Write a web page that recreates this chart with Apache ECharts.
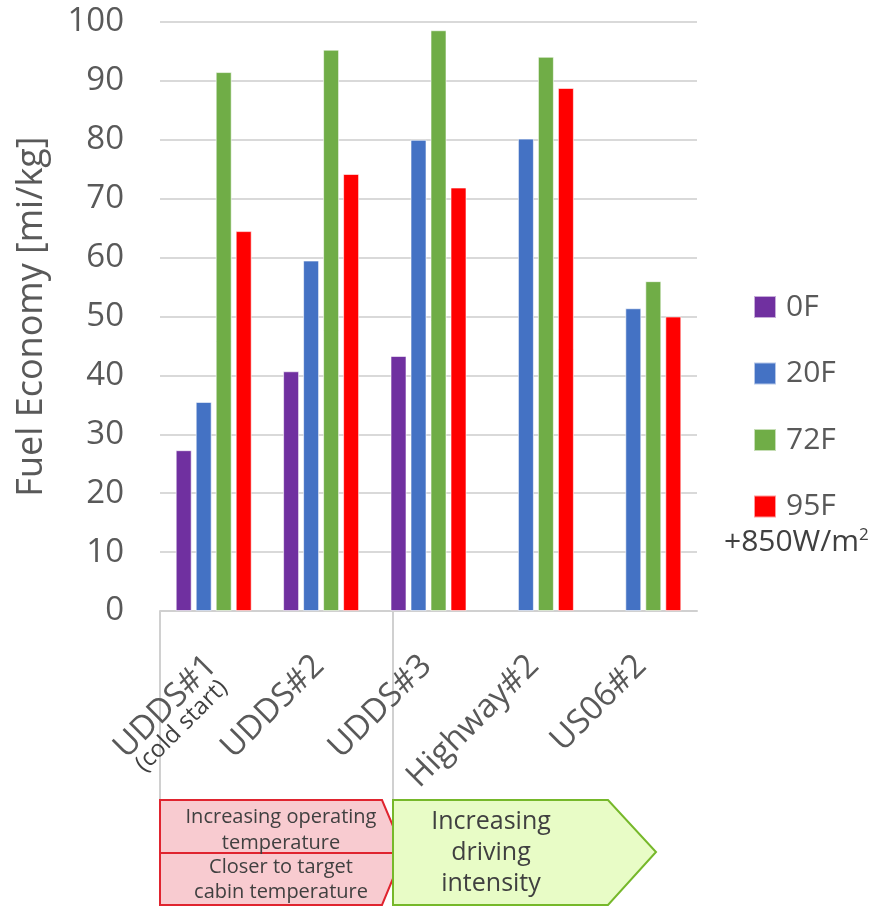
<!DOCTYPE html>
<html>
<head>
<meta charset="utf-8">
<script src="https://cdn.jsdelivr.net/npm/echarts@6/dist/echarts.min.js"></script>
<style>
  html, body { margin: 0; padding: 0; background: #fff; }
  #chart { width: 874px; height: 908px; }
</style>
</head>
<body>
<div id="chart"></div>
<script>
// Drive cycles on the x axis
const cycles = ['UDDS#1', 'UDDS#2', 'UDDS#3', 'Highway#2', 'US06#2'];

// Fuel economy [mi/kg] per ambient test condition
const seriesNames = ['0F', '20F', '72F', '95F'];
const econ0F  = [27.3, 40.7, 43.3, null, null];
const econ20F = [35.5, 59.5, 80.0, 80.2, 51.4];
const econ72F = [91.5, 95.3, 98.6, 94.1, 56.0];
const econ95F = [64.5, 74.2, 71.9, 88.8, 50.0];

const yTicks = { min: 0, max: 100, interval: 10 };
const colors = ['#7030a0', '#4472c4', '#70ad47', '#ff0000'];

const FONT = '"Open Sans", "Noto Sans", sans-serif';
const TEXT = '#595959';

const chart = echarts.init(document.getElementById('chart'), null, { renderer: 'canvas' });

const values = [econ0F, econ20F, econ72F, econ95F];

const option = {
  animation: false,
  backgroundColor: '#ffffff',
  textStyle: { fontFamily: FONT },
  grid: { left: 160, right: 177, top: 22, bottom: 297, containLabel: false },
  legend: {
    orient: 'vertical',
    left: 748,
    top: 287,
    itemWidth: 22,
    itemHeight: 22,
    itemGap: 36.5,
    icon: 'rect',
    textStyle: { fontSize: 30, color: TEXT, fontFamily: FONT, padding: [0, 0, 0, 5] },
    data: seriesNames
  },
  xAxis: {
    type: 'category',
    data: cycles,
    axisLine: { show: true, lineStyle: { color: '#d0d0d0', width: 2 } },
    axisTick: { show: false },
    axisLabel: {
      interval: 0,
      rotate: 45,
      margin: 52,
      color: TEXT,
      fontSize: 33,
      fontFamily: FONT,
      formatter: function (v) {
        // every label gets a second line so all first lines sit on the same spot
        const sub = v === 'UDDS#1' ? '(cold start)' : ' ';
        return '{a|' + v + '}\n{b|' + sub + '}';
      },
      rich: {
        a: { fontSize: 33, color: TEXT, fontFamily: FONT, lineHeight: 44, align: 'right' },
        b: { fontSize: 24, color: '#404040', fontFamily: FONT, lineHeight: 6, align: 'right', padding: [0, 8, 0, 0] }
      }
    }
  },
  yAxis: {
    type: 'value',
    min: yTicks.min,
    max: yTicks.max,
    interval: yTicks.interval,
    name: 'Fuel Economy [mi/kg]',
    nameLocation: 'middle',
    nameGap: 110,
    nameTextStyle: { fontSize: 36, color: TEXT, fontFamily: FONT },
    axisLine: { show: false },
    axisTick: { show: false },
    axisLabel: { fontSize: 33, color: TEXT, fontFamily: FONT, margin: 36 },
    splitLine: { lineStyle: { color: '#d9d9d9', width: 2 } }
  },
  series: seriesNames.map(function (name, i) {
    return {
      name: name,
      type: 'bar',
      data: values[i],
      barWidth: 16,
      barGap: '25%',
      barCategoryGap: '30%',
      itemStyle: { color: colors[i], borderColor: 'rgba(255,255,255,0.6)', borderWidth: 1 }
    };
  }),
  graphic: [
    // legend footnote for the hot-soak condition
    { type: 'text', x: 724, y: 542,
      style: {
        text: '+850W/m{s|2}', font: '30px ' + FONT, fill: '#404040', verticalAlign: 'middle',
        rich: { s: { fontSize: 17, fontFamily: FONT, fill: '#404040', padding: [0, 0, 14, 0] } }
      } },
    // divider lines below the category axis
    { type: 'line', shape: { x1: 160, y1: 611, x2: 160, y2: 905 }, style: { stroke: '#d0d0d0', lineWidth: 2 } },
    { type: 'line', shape: { x1: 393, y1: 611, x2: 393, y2: 800 }, style: { stroke: '#d0d0d0', lineWidth: 2 } },
    // red arrow: operating / cabin temperature
    { type: 'polygon', z: 10,
      shape: { points: [[160, 800], [382, 800], [404, 852], [382, 905], [160, 905]] },
      style: { fill: '#f8cbd0', stroke: '#e0242f', lineWidth: 2 } },
    { type: 'line', z: 11, shape: { x1: 160, y1: 853, x2: 400, y2: 853 }, style: { stroke: '#e0242f', lineWidth: 2 } },
    { type: 'text', z: 12, x: 281, y: 817,
      style: { text: 'Increasing operating', font: '20px ' + FONT, fill: '#404040', align: 'center', verticalAlign: 'middle' } },
    { type: 'text', z: 12, x: 281, y: 843,
      style: { text: 'temperature', font: '20px ' + FONT, fill: '#404040', align: 'center', verticalAlign: 'middle' } },
    { type: 'text', z: 12, x: 281, y: 867,
      style: { text: 'Closer to target', font: '20px ' + FONT, fill: '#404040', align: 'center', verticalAlign: 'middle' } },
    { type: 'text', z: 12, x: 281, y: 892,
      style: { text: 'cabin temperature', font: '20px ' + FONT, fill: '#404040', align: 'center', verticalAlign: 'middle' } },
    // green arrow: driving intensity
    { type: 'polygon', z: 13,
      shape: { points: [[393, 800], [608, 800], [656, 852], [608, 905], [393, 905]] },
      style: { fill: '#e8fcc6', stroke: '#76b82a', lineWidth: 2 } },
    { type: 'text', z: 14, x: 491, y: 822,
      style: { text: 'Increasing', font: '25px ' + FONT, fill: '#404040', align: 'center', verticalAlign: 'middle' } },
    { type: 'text', z: 14, x: 491, y: 853,
      style: { text: 'driving', font: '25px ' + FONT, fill: '#404040', align: 'center', verticalAlign: 'middle' } },
    { type: 'text', z: 14, x: 491, y: 884,
      style: { text: 'intensity', font: '25px ' + FONT, fill: '#404040', align: 'center', verticalAlign: 'middle' } }
  ]
};

chart.setOption(option);
</script>
</body>
</html>
